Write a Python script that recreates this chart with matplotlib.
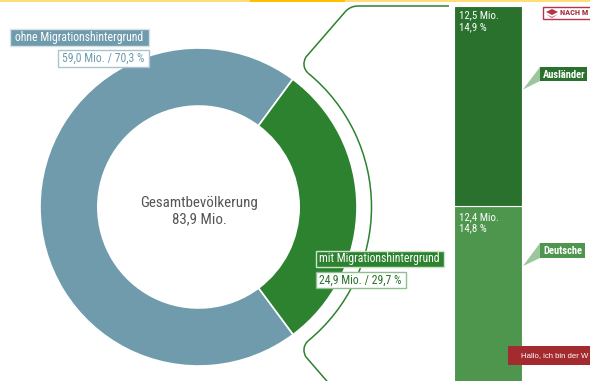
import numpy as np
import matplotlib
matplotlib.use("Agg")
import matplotlib.pyplot as plt
from matplotlib.patches import Rectangle, Polygon, Arc
from matplotlib.path import Path
from matplotlib.patches import PathPatch
import logging

logging.getLogger("matplotlib.font_manager").setLevel(logging.ERROR)
plt.rcParams["font.family"] = ["Roboto Condensed", "Liberation Sans Narrow", "Roboto"]

# Data
donut_labels = ["ohne Migrationshintergrund", "mit Migrationshintergrund"]
donut_mio = [59.0, 24.9]
donut_pct = [70.3, 29.7]
total_mio = 83.9

bar_labels = ["Deutsche", "Ausländer"]
bar_mio = [12.4, 12.5]
bar_pct = [14.8, 14.9]

BLUE = "#6F9BAD"
GREEN = "#2C822E"
DARK = "#2A712E"
LIGHT = "#4E954E"
PALE = "#9CC69C"
W, H = 590, 381


def de(v):
    return f"{v:.1f}".replace(".", ",")


def px_axes(fig, x0, y0, x1, y1):
    # axes placed by pixel box, y measured from the top
    return fig.add_axes([x0 / W, 1 - y1 / H, (x1 - x0) / W, (y1 - y0) / H])


fig = plt.figure(figsize=(W / 100, H / 100), dpi=100)

# Donut
ax_d = px_axes(fig, 40, 48, 357, 366)
ax_d.pie(
    donut_mio,
    colors=[BLUE, GREEN],
    startangle=53.5,
    radius=1,
    wedgeprops={"width": 0.365, "edgecolor": "white", "linewidth": 1.2},
)
ax_d.set_xlim(-1, 1)
ax_d.set_ylim(-1, 1)
ax_d.set_aspect("auto")

# Stacked bar, runs past the bottom of the picture
ax_b = px_axes(fig, 454, 6, 522, 405)
ax_b.bar([0], [bar_mio[0]], width=1, color=LIGHT, edgecolor="white", linewidth=0.8)
ax_b.bar([0], [bar_mio[1]], width=1, bottom=[bar_mio[0]], color=DARK, edgecolor="white", linewidth=0.8)
ax_b.set_xlim(-0.5, 0.5)
ax_b.set_ylim(0, sum(bar_mio))
ax_b.axis("off")

# Overlay in pixel coordinates
ax = fig.add_axes([0, 0, 1, 1], facecolor="none")
ax.set_xlim(0, W)
ax.set_ylim(H, 0)
ax.axis("off")


def box(x0, y0, x1, y1, face, edge, lw=1.0, z=5):
    ax.add_patch(Rectangle((x0, y0), x1 - x0, y1 - y0, facecolor=face, edgecolor=edge, linewidth=lw, zorder=z))


def txt(x, y, s, color="white", size=8.5, ha="left", z=6, **kw):
    ax.text(x, y, s, color=color, fontsize=size, ha=ha, va="center", zorder=z, **kw)


# Strip along the top
box(0, 0, 590, 1.5, "#FFDD77", "none", 0, 1)
box(250, 0, 345, 1.5, "#FFC000", "none", 0, 2)

# Bracket round the green slice
cx, cy, r = 198.5, 207, 173
end_y = 134
end_x = cx + np.sqrt(r ** 2 - end_y ** 2)
end_angle = np.degrees(np.arcsin(end_y / r))
for sign in (1, -1):
    y = lambda v: cy - sign * v
    verts = [(449, y(201)), (358, y(201)), (350, y(201)), (345, y(195)), (306, y(150)),
             (303, y(145)), (303, y(139)), (end_x, y(end_y))]
    codes = [Path.MOVETO, Path.LINETO, Path.CURVE3, Path.CURVE3, Path.LINETO,
             Path.CURVE4, Path.CURVE4, Path.CURVE4]
    ax.add_patch(PathPatch(Path(verts, codes), facecolor="none", edgecolor=GREEN, linewidth=1.1, zorder=3))
ax.add_patch(Arc((cx, cy), 2 * r, 2 * r, theta1=-end_angle, theta2=end_angle, edgecolor=GREEN, linewidth=1.1, zorder=3))

# Centre text
txt(199, 203, "Gesamtbevölkerung", color="#555555", size=10.8, ha="center")
txt(199, 219, f"{de(total_mio)} Mio.", color="#555555", size=10.8, ha="center")

# Donut labels
box(10, 29, 149, 45.5, BLUE, "#D5E2E7")
txt(15, 37.5, donut_labels[0])
box(58, 50, 149, 67, "white", "#A9C4CF")
txt(62, 58.5, f"{de(donut_mio[0])} Mio. / {de(donut_pct[0])} %", color=BLUE)

box(315.5, 250.5, 444, 267, GREEN, "#CFE3CF")
txt(319, 258.5, donut_labels[1])
box(316, 271.5, 406, 288, "white", "#8FBF8F")
txt(319, 280, f"{de(donut_mio[1])} Mio. / {de(donut_pct[1])} %", color=DARK)

# Text inside the bar
txt(459, 15, f"{de(bar_mio[1])} Mio.", size=7.8)
txt(459, 27, f"{de(bar_pct[1])} %", size=7.8)
txt(459, 217, f"{de(bar_mio[0])} Mio.", size=7.8)
txt(459, 228, f"{de(bar_pct[0])} %", size=7.8)

# Callouts
ax.add_patch(Polygon([(523, 89.5), (540, 67), (540, 81)], facecolor=PALE, edgecolor="none", zorder=4))
box(540, 67, 587, 81, DARK, "none", 0)
txt(543, 74.5, bar_labels[1], size=7.6, fontweight="bold")
ax.add_patch(Polygon([(523, 266), (540, 243), (540, 258)], facecolor=PALE, edgecolor="none", zorder=4))
box(540, 243, 585, 258, LIGHT, "none", 0)
txt(543, 251, bar_labels[0], size=7.6, fontweight="bold")

# Badge and tooltip cut off at the right edge of the picture
box(543, 6.5, 595, 19, "white", "#B5344A", 1.0)
ax.add_patch(Polygon([(546, 12), (552, 9), (558, 12), (552, 15)], facecolor="#B5344A", edgecolor="none", zorder=6))
ax.add_patch(Polygon([(546, 14), (552, 17), (558, 14), (552, 18)], facecolor="#B5344A", edgecolor="none", zorder=6))
txt(560, 12.8, "NACH M", color="#A52A3A", size=6.0, fontweight="bold")
box(508, 346, 600, 365, "#A32A2E", "none", 0, 7)
txt(521, 355.5, "Hallo, ich bin der W", size=5.6, z=8, family="Liberation Sans")

fig.savefig("out.png", dpi=100, facecolor="white")
